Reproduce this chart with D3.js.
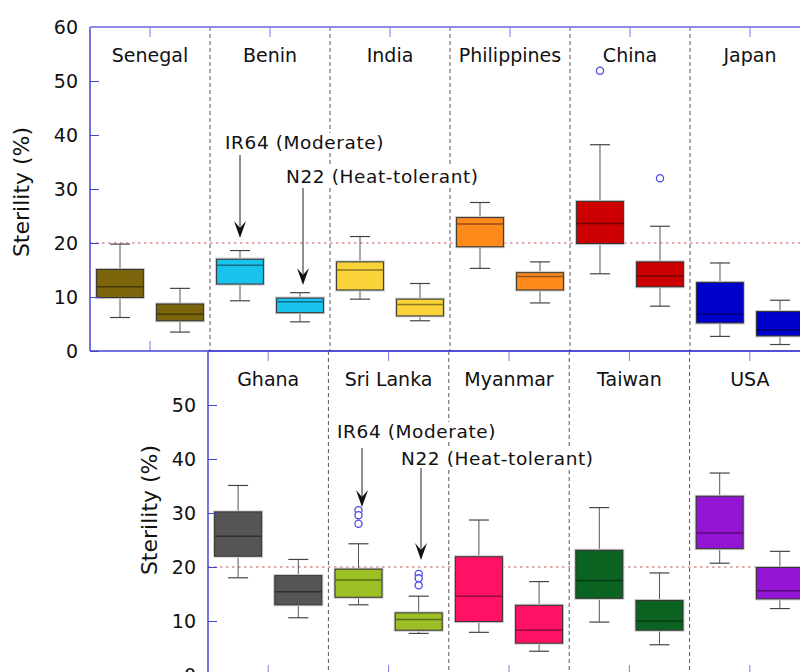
<!DOCTYPE html>
<html>
<head>
<meta charset="utf-8">
<script src="https://cdn.jsdelivr.net/npm/d3@7"></script>
<style>
  html, body { margin: 0; padding: 0; background: #fff; }
  svg { display: block; font-family: "DejaVu Sans", sans-serif; }
</style>
</head>
<body>
<svg id="chart" width="800" height="672"></svg>
<script>
// Spikelet sterility of two rice cultivars across sites
// Each box: [lower whisker, Q1, median, Q3, upper whisker] in %
const countriesTop = ["Senegal", "Benin", "India", "Philippines", "China", "Japan"];
const countriesBottom = ["Ghana", "Sri Lanka", "Myanmar", "Taiwan", "USA"];
const varieties = ["IR64", "N22"];

const colorsTop = ["#7b6409", "#19c3ee", "#f9d338", "#ff8a1c", "#cc0000", "#0000cc"];
const colorsBottom = ["#555555", "#9cbf26", "#ff1166", "#0b6322", "#9414d4"];

const ir64Top = [
  [6.2, 9.9, 11.9, 15.1, 19.8],
  [9.3, 12.4, 15.9, 17.0, 18.6],
  [9.6, 11.3, 15.0, 16.5, 21.2],
  [15.3, 19.3, 23.5, 24.7, 27.5],
  [14.3, 19.9, 23.6, 27.7, 38.2],
  [2.7, 5.2, 6.8, 12.7, 16.3]
];
const n22Top = [
  [3.5, 5.6, 6.8, 8.7, 11.6],
  [5.4, 7.1, 9.1, 9.8, 10.8],
  [5.6, 6.5, 8.6, 9.6, 12.5],
  [8.9, 11.3, 13.8, 14.5, 16.5],
  [8.3, 11.9, 13.9, 16.5, 23.1],
  [1.2, 2.8, 3.9, 7.3, 9.4]
];
const ir64Bottom = [
  [18.0, 22.0, 25.7, 30.2, 35.1],
  [13.0, 14.4, 17.6, 19.6, 24.3],
  [7.9, 9.9, 14.6, 21.9, 28.7],
  [9.8, 14.2, 17.5, 23.1, 31.0],
  [20.7, 23.4, 26.3, 33.1, 37.4]
];
const n22Bottom = [
  [10.6, 13.0, 15.4, 18.4, 21.4],
  [7.7, 8.3, 10.3, 11.5, 14.6],
  [4.4, 5.9, 8.3, 12.9, 17.3],
  [5.6, 8.3, 10.0, 13.8, 18.9],
  [12.3, 14.1, 15.6, 19.9, 22.9]
];

// Individual outlying observations
const outlierCountry = ["China", "China", "Sri Lanka", "Sri Lanka", "Sri Lanka", "Sri Lanka", "Sri Lanka", "Sri Lanka"];
const outlierVariety = ["IR64", "N22", "IR64", "IR64", "IR64", "N22", "N22", "N22"];
const outlierValue = [51.9, 32.0, 30.5, 29.6, 28.0, 18.7, 17.9, 16.6];

const yTicksTop = [0, 10, 20, 30, 40, 50, 60];
const yTicksBottom = [0, 10, 20, 30, 40, 50];
const thresholdValue = 20;

const svg = d3.select("#chart");

const panels = [
  { countries: countriesTop, colors: colorsTop, ir64: ir64Top, n22: n22Top,
    left: 90, right: 810, top: 27, bottom: 351, yTicks: yTicksTop,
    labelX: 29, labelY: 192, arrows: { ir64: [240, 155, 238], n22: [303, 188, 285] },
    notes: { ir64: [225, 149], n22: [286, 183] } },
  { countries: countriesBottom, colors: colorsBottom, ir64: ir64Bottom, n22: n22Bottom,
    left: 208, right: 810, top: 351, bottom: 675, yTicks: yTicksBottom,
    labelX: 157, labelY: 510, arrows: { ir64: [362, 448, 507], n22: [421, 468, 560] },
    notes: { ir64: [337, 438], n22: [401, 465] } }
];

const frameColor = "#4646d6";
const tickColor = "#7a7ae6";

panels.forEach((p, pi) => {
  const g = svg.append("g");
  const x = d3.scaleBand().domain(p.countries).range([p.left, p.right]);
  const xv = d3.scaleBand().domain(varieties).range([0, x.bandwidth()]).paddingInner(0.22).paddingOuter(0.11);
  const y = d3.scaleLinear().domain([0, 60]).range([p.bottom, p.top]);
  const colorOf = d3.scaleOrdinal().domain(p.countries).range(p.colors);

  // threshold line at 20 %
  g.append("line")
    .attr("x1", p.left).attr("x2", p.right)
    .attr("y1", y(thresholdValue)).attr("y2", y(thresholdValue))
    .attr("stroke", "#c45a5a").attr("stroke-width", 1.2)
    .attr("stroke-dasharray", "2.5,3.5");

  // dashed dividers between sites
  g.selectAll(".divider").data(p.countries.slice(1)).join("line")
    .attr("x1", d => x(d)).attr("x2", d => x(d))
    .attr("y1", p.top).attr("y2", p.bottom)
    .attr("stroke", "#555").attr("stroke-width", 1)
    .attr("stroke-dasharray", "4,3");

  // site names
  g.selectAll(".site").data(p.countries).join("text")
    .attr("x", d => x(d) + x.bandwidth() / 2)
    .attr("y", p.top + 35)
    .attr("text-anchor", "middle")
    .attr("font-size", 19)
    .attr("fill", "#111")
    .text(d => d);

  // annotation labels with arrows
  const notes = [
    { text: "IR64 (Moderate)", pos: p.notes.ir64, arrow: p.arrows.ir64 },
    { text: "N22 (Heat-tolerant)", pos: p.notes.n22, arrow: p.arrows.n22 }
  ];
  notes.forEach(n => {
    const t = g.append("text")
      .attr("x", n.pos[0]).attr("y", n.pos[1])
      .attr("font-size", 18.5)
      .attr("letter-spacing", 0.6)
      .attr("fill", "#111")
      .text(n.text);
    const bb = t.node().getBBox();
    g.insert("rect", () => t.node())
      .attr("x", bb.x - 2).attr("y", bb.y + 1)
      .attr("width", bb.width + 4).attr("height", bb.height - 2)
      .attr("fill", "#fff");
    const [ax, ay0, ay1] = n.arrow;
    g.append("line")
      .attr("x1", ax).attr("x2", ax).attr("y1", ay0).attr("y2", ay1 - 8)
      .attr("stroke", "#222").attr("stroke-width", 1);
    g.append("path")
      .attr("d", `M${ax},${ay1} L${ax - 6},${ay1 - 17} L${ax},${ay1 - 10} L${ax + 6},${ay1 - 17} Z`)
      .attr("fill", "#111");
  });

  // boxes
  const rows = [];
  p.countries.forEach((c, i) => {
    rows.push({ country: c, variety: "IR64", s: p.ir64[i] });
    rows.push({ country: c, variety: "N22", s: p.n22[i] });
  });
  const bw = xv.bandwidth();
  const capW = 20;
  const boxes = g.selectAll(".box").data(rows).join("g")
    .attr("transform", d => `translate(${x(d.country) + xv(d.variety)},0)`);
  // whiskers
  boxes.append("line")
    .attr("x1", bw / 2).attr("x2", bw / 2)
    .attr("y1", d => y(d.s[4])).attr("y2", d => y(d.s[0]))
    .attr("stroke", "#555").attr("stroke-width", 1);
  boxes.selectAll(".cap").data(d => [d.s[0], d.s[4]]).join("line")
    .attr("x1", bw / 2 - capW / 2).attr("x2", bw / 2 + capW / 2)
    .attr("y1", v => y(v)).attr("y2", v => y(v))
    .attr("stroke", "#444").attr("stroke-width", 1.2);
  // box body with a soft outer rim
  boxes.append("rect")
    .attr("x", 0).attr("width", bw)
    .attr("y", d => y(d.s[3])).attr("height", d => y(d.s[1]) - y(d.s[3]))
    .attr("fill", d => colorOf(d.country))
    .attr("stroke", "#c8c8c8").attr("stroke-width", 3);
  boxes.append("rect")
    .attr("x", 0).attr("width", bw)
    .attr("y", d => y(d.s[3])).attr("height", d => y(d.s[1]) - y(d.s[3]))
    .attr("fill", d => colorOf(d.country))
    .attr("stroke", "#333").attr("stroke-width", 1);
  boxes.append("line")
    .attr("x1", 0).attr("x2", bw)
    .attr("y1", d => y(d.s[2])).attr("y2", d => y(d.s[2]))
    .attr("stroke", d => d3.color(colorOf(d.country)).darker(1.6))
    .attr("stroke-width", 1.5);

  // outliers
  const outs = outlierValue.map((v, i) => ({ country: outlierCountry[i], variety: outlierVariety[i], v }))
    .filter(o => p.countries.includes(o.country));
  g.selectAll(".outlier").data(outs).join("circle")
    .attr("cx", o => x(o.country) + xv(o.variety) + bw / 2)
    .attr("cy", o => y(o.v))
    .attr("r", 3.6)
    .attr("fill", "#fff")
    .attr("stroke", "#4a4ae8").attr("stroke-width", 1.3);

  // y axis with inward ticks
  const yAxis = g.append("g")
    .attr("transform", `translate(${p.left},0)`)
    .call(d3.axisLeft(y).tickValues(p.yTicks).tickSizeInner(-9).tickSizeOuter(0).tickPadding(12).tickFormat(d3.format("d")));
  yAxis.select(".domain").remove();
  yAxis.selectAll(".tick line").attr("stroke", frameColor);
  yAxis.selectAll(".tick text").attr("font-size", 19).attr("fill", "#111")
    .attr("font-family", "DejaVu Sans, sans-serif");

  // center ticks along top and bottom
  const topAxis = g.append("g")
    .attr("transform", `translate(0,${p.top})`)
    .call(d3.axisTop(x).tickSizeInner(-10).tickSizeOuter(0).tickFormat(""));
  topAxis.select(".domain").remove();
  topAxis.selectAll(".tick line").attr("stroke", tickColor);

  const botAxis = g.append("g")
    .attr("transform", `translate(0,${p.bottom})`)
    .call(d3.axisBottom(x).tickSizeInner(-10).tickSizeOuter(0).tickFormat(""));
  botAxis.select(".domain").remove();
  botAxis.selectAll(".tick line").attr("stroke", tickColor);
  if (pi === 0) {
    // the lower panel overlaps this edge beyond its own left border
    botAxis.selectAll(".tick").filter(d => x(d) + x.bandwidth() / 2 > panels[1].left).remove();
  }

  // frame
  g.append("line").attr("x1", p.left).attr("x2", p.left).attr("y1", p.top).attr("y2", p.bottom)
    .attr("stroke", frameColor).attr("stroke-width", 1.5);
  g.append("line").attr("x1", p.left).attr("x2", p.right).attr("y1", p.top).attr("y2", p.top)
    .attr("stroke", pi === 0 ? "#8c8ce4" : frameColor).attr("stroke-width", pi === 0 ? 2 : 1.5);
  g.append("line").attr("x1", p.left).attr("x2", p.right).attr("y1", p.bottom).attr("y2", p.bottom)
    .attr("stroke", frameColor).attr("stroke-width", 1.5);

  // axis title
  g.append("text")
    .attr("transform", `translate(${p.labelX},${p.labelY}) rotate(-90)`)
    .attr("text-anchor", "middle")
    .attr("font-size", 22)
    .attr("fill", "#111")
    .text("Sterility (%)");
});
</script>
</body>
</html>
